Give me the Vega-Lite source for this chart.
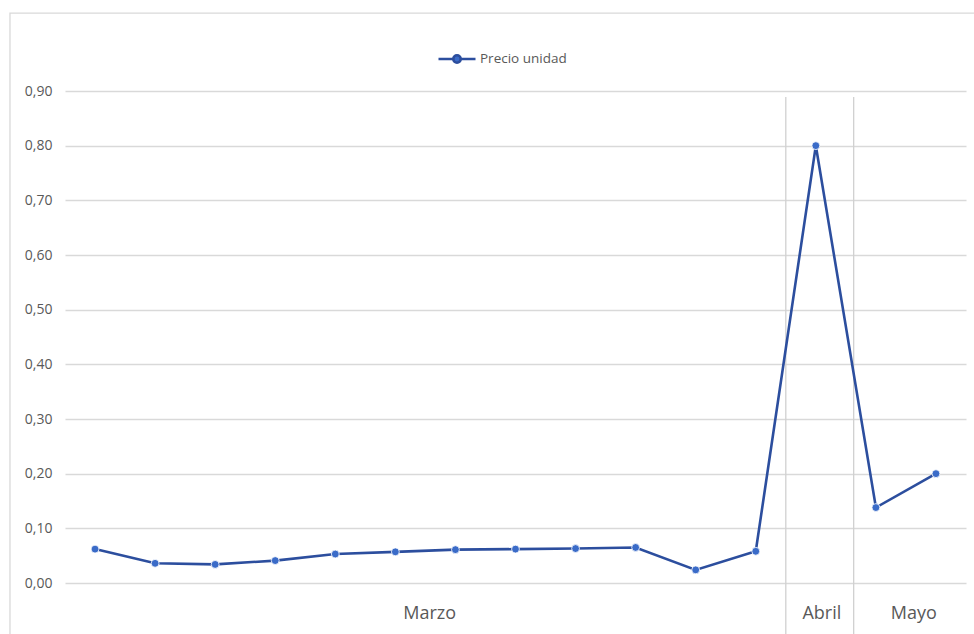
{
  "$schema": "https://vega.github.io/schema/vega-lite/v6.json",
  "width": 901,
  "height": 492,
  "autosize": "none",
  "padding": {"left": 65, "top": 91, "right": 8, "bottom": 51},
  "background": "white",
  "config": {
    "view": {"stroke": null},
    "font": "Open Sans",
    "axis": {"labelFont": "Open Sans"},
    "legend": {"labelFont": "Open Sans"}
  },
  "datasets": {
    "precios": [
      {"n": 1, "mes": "Marzo", "serie": "Precio unidad", "precio": 0.062},
      {"n": 2, "mes": "Marzo", "serie": "Precio unidad", "precio": 0.036},
      {"n": 3, "mes": "Marzo", "serie": "Precio unidad", "precio": 0.034},
      {"n": 4, "mes": "Marzo", "serie": "Precio unidad", "precio": 0.041},
      {"n": 5, "mes": "Marzo", "serie": "Precio unidad", "precio": 0.053},
      {"n": 6, "mes": "Marzo", "serie": "Precio unidad", "precio": 0.057},
      {"n": 7, "mes": "Marzo", "serie": "Precio unidad", "precio": 0.061},
      {"n": 8, "mes": "Marzo", "serie": "Precio unidad", "precio": 0.062},
      {"n": 9, "mes": "Marzo", "serie": "Precio unidad", "precio": 0.063},
      {"n": 10, "mes": "Marzo", "serie": "Precio unidad", "precio": 0.065},
      {"n": 11, "mes": "Marzo", "serie": "Precio unidad", "precio": 0.024},
      {"n": 12, "mes": "Marzo", "serie": "Precio unidad", "precio": 0.058},
      {"n": 13, "mes": "Abril", "serie": "Precio unidad", "precio": 0.80},
      {"n": 14, "mes": "Mayo", "serie": "Precio unidad", "precio": 0.138},
      {"n": 15, "mes": "Mayo", "serie": "Precio unidad", "precio": 0.20}
    ],
    "meses": [
      {"mes": "Marzo", "desde": 0.5, "hasta": 12.5, "centro": 6.57},
      {"mes": "Abril", "desde": 12.5, "hasta": 13.63, "centro": 13.1},
      {"mes": "Mayo", "desde": 13.63, "hasta": 15.5, "centro": 14.63}
    ]
  },
  "encoding": {
    "x": {
      "type": "quantitative",
      "scale": {"domain": [0.5, 15.5], "nice": false, "zero": false},
      "axis": null
    },
    "y": {
      "type": "quantitative",
      "scale": {"domain": [0, 0.9], "nice": false, "zero": false},
      "axis": {
        "title": null,
        "values": [0, 0.1, 0.2, 0.3, 0.4, 0.5, 0.6, 0.7, 0.8, 0.9],
        "labelExpr": "replace(format(datum.value, '.2f'), '.', ',')",
        "domain": false,
        "ticks": false,
        "grid": true,
        "labelPadding": 13,
        "labelFontSize": 14,
        "labelColor": "#595959",
        "gridColor": "#D9D9D9",
        "gridWidth": 1.3
      }
    }
  },
  "layer": [
    {
      "data": {"values": [{}]},
      "mark": {"type": "rect", "fill": null, "stroke": "#D9D9D9", "strokeWidth": 1.3, "clip": false},
      "encoding": {
        "x": {"datum": -0.416},
        "x2": {"datum": 16.5},
        "y": {"datum": 1.0425},
        "y2": {"datum": -0.3}
      }
    },
    {
      "data": {"name": "meses"},
      "transform": [{"filter": "datum.hasta < 15.5"}],
      "mark": {"type": "rule", "color": "#D0D0D0", "strokeWidth": 1.3, "clip": false},
      "encoding": {
        "x": {"field": "hasta"},
        "y": {"datum": 0.889},
        "y2": {"datum": -0.1}
      }
    },
    {
      "data": {"name": "meses"},
      "mark": {"type": "text", "fontSize": 18, "color": "#595959", "font": "Open Sans", "baseline": "middle", "align": "center", "clip": false},
      "encoding": {
        "x": {"field": "centro"},
        "y": {"datum": -0.0558},
        "text": {"field": "mes"}
      }
    },
    {
      "data": {"name": "precios"},
      "mark": {"type": "line", "strokeWidth": 2.6},
      "encoding": {
        "x": {"field": "n"},
        "y": {"field": "precio"},
        "color": {
          "field": "serie",
          "type": "nominal",
          "scale": {"range": ["#2C4E9E"]},
          "legend": {
            "title": null,
            "orient": "none",
            "legendX": 372,
            "legendY": -52,
            "padding": 0,
            "symbolType": "M-1,0H-0.2M0.2,0H1M-0.2,0A0.2,0.2,0,1,0,0.2,0A0.2,0.2,0,1,0,-0.2,0Z",
            "symbolSize": 1369,
            "symbolStrokeWidth": 2.6,
            "labelFontSize": 13.5,
            "labelColor": "#595959",
            "labelOffset": 3,
            "encode": {
              "symbols": {"update": {"fill": {"value": "#3A6BC8"}, "stroke": {"value": "#2C4E9E"}}}
            }
          }
        }
      }
    },
    {
      "data": {"name": "precios"},
      "mark": {"type": "point", "filled": true, "size": 62, "color": "#3A6BC8", "opacity": 1, "stroke": "white", "strokeWidth": 0.8},
      "encoding": {
        "x": {"field": "n"},
        "y": {"field": "precio"}
      }
    }
  ]
}
